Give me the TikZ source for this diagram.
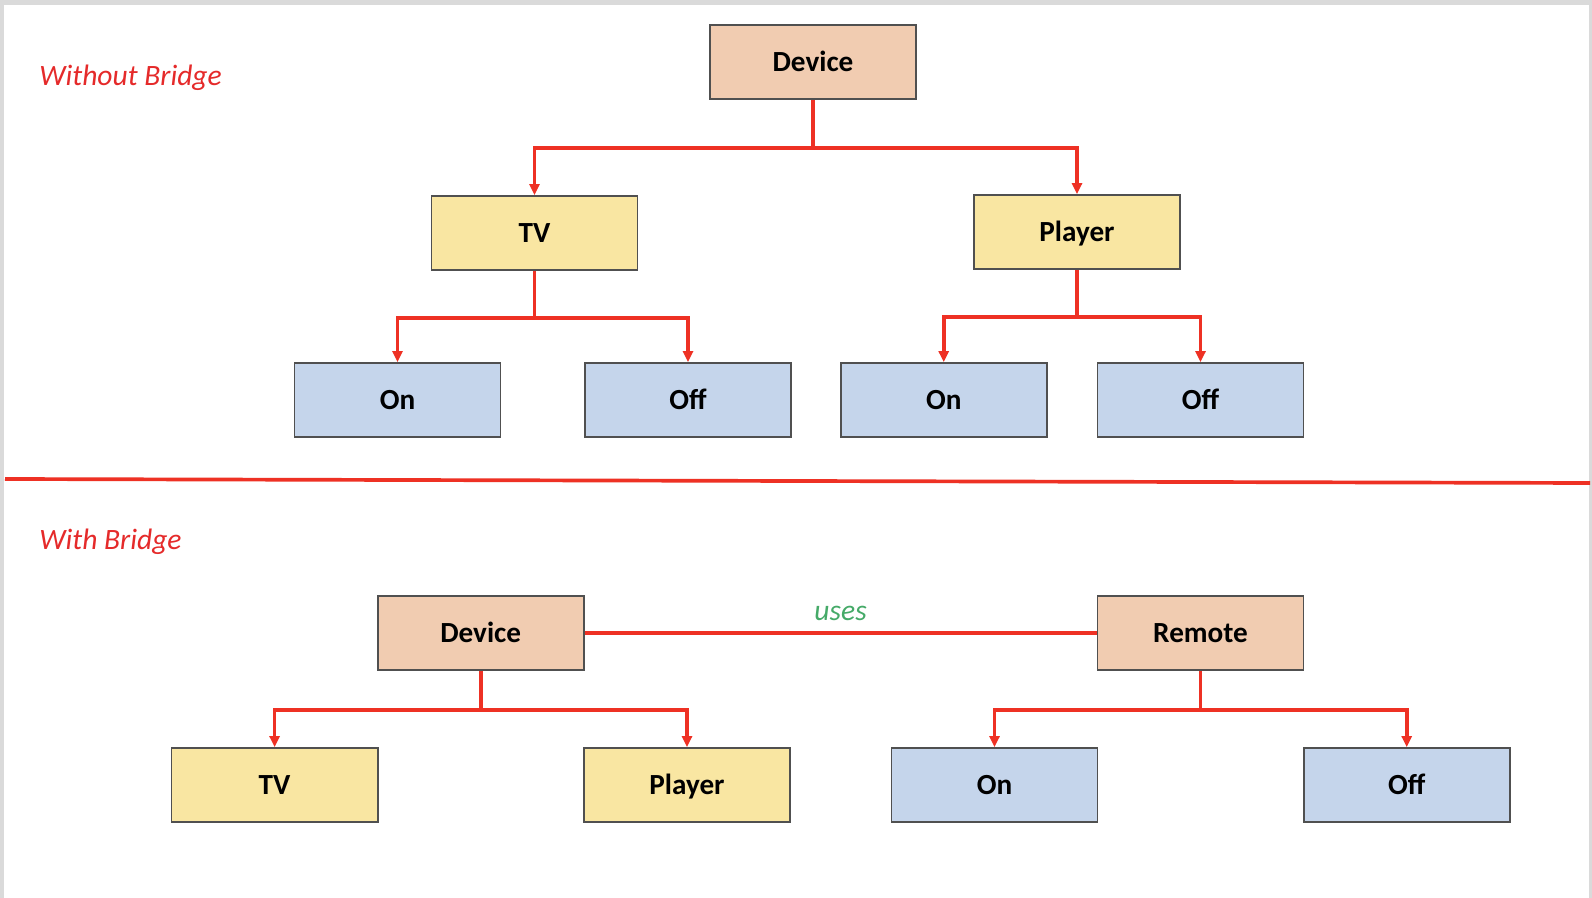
\documentclass[tikz,border=0pt]{standalone}
\usepackage{fontspec}
\setmainfont{Carlito}
\usepackage{xcolor}
\usetikzlibrary{arrows.meta}

\definecolor{peachfill}{HTML}{F1CCB1}
\definecolor{yellowfill}{HTML}{F9E6A2}
\definecolor{bluefill}{HTML}{C5D5EB}
\definecolor{edgegray}{HTML}{505050}
\definecolor{linkred}{HTML}{EE3124}
\definecolor{labelred}{HTML}{E52A2A}
\definecolor{usesgreen}{HTML}{45AA68}
\definecolor{framegray}{HTML}{DADADA}

\begin{document}
\begin{tikzpicture}[x=0.01cm, y=-0.01cm,
  box/.style={rectangle, draw=edgegray, line width=0.5pt, minimum width=2.06cm, minimum height=0.74cm,
    inner sep=0pt, text height=0.19cm, text depth=0cm, font=\fontsize{8.3}{10}\selectfont\bfseries},
  parentbox/.style={box, fill=peachfill},
  childbox/.style={box, fill=yellowfill},
  leafbox/.style={box, fill=bluefill},
  link/.style={draw=linkred, line width=1.05pt},
  arrow/.style={link, -{Triangle[length=0.11cm, width=0.1cm]}},
  caption/.style={anchor=base west, inner sep=0pt, text=labelred, font=\fontsize{8.4}{10}\selectfont\itshape}]
  \useasboundingbox (0,0) rectangle (1592,898);
  \fill[framegray] (0,0) rectangle (1592,898);
  \fill[white] (4,5) rectangle (1589,898);

  % without bridge
  \node[caption] (nobridge) at (38.6,86) {Without Bridge};
  \node[parentbox] (device) at (813,62) {Device};
  \node[childbox] (tv) at (534.5,233) {TV};
  \node[childbox] (player) at (1077,232) {Player};
  \node[leafbox] (tvon) at (397.5,400) {On};
  \node[leafbox] (tvoff) at (688,400) {Off};
  \node[leafbox] (playeron) at (943.7,400) {On};
  \node[leafbox] (playeroff) at (1200.5,400) {Off};

  \draw[arrow] (device.south) -- ++(0,48) -| (tv.north);
  \draw[arrow] (device.south) -- ++(0,48) -| (player.north);
  \draw[arrow] (tv.south) -- ++(0,47) -| (tvon.north);
  \draw[arrow] (tv.south) -- ++(0,47) -| (tvoff.north);
  \draw[arrow] (player.south) -- ++(0,47) -| (playeron.north);
  \draw[arrow] (player.south) -- ++(0,47) -| (playeroff.north);

  \draw[link] (5,479) -- (1590,483);

  % with bridge
  \node[caption] (withbridge) at (38.6,550) {With Bridge};
  \node[parentbox] (bdevice) at (480.7,633) {Device};
  \node[parentbox] (remote) at (1200.5,633) {Remote};
  \node[childbox] (btv) at (274.6,785) {TV};
  \node[childbox] (bplayer) at (687,785) {Player};
  \node[leafbox] (bon) at (994.5,785) {On};
  \node[leafbox] (boff) at (1406.7,785) {Off};

  \draw[link] (bdevice) -- node[midway, anchor=base, yshift=0.125cm, text=usesgreen,
    font=\fontsize{8.4}{10}\selectfont\itshape] {uses} (remote);
  \draw[arrow] (bdevice.south) -- ++(0,39) -| (btv.north);
  \draw[arrow] (bdevice.south) -- ++(0,39) -| (bplayer.north);
  \draw[arrow] (remote.south) -- ++(0,39) -| (bon.north);
  \draw[arrow] (remote.south) -- ++(0,39) -| (boff.north);
\end{tikzpicture}
\end{document}
